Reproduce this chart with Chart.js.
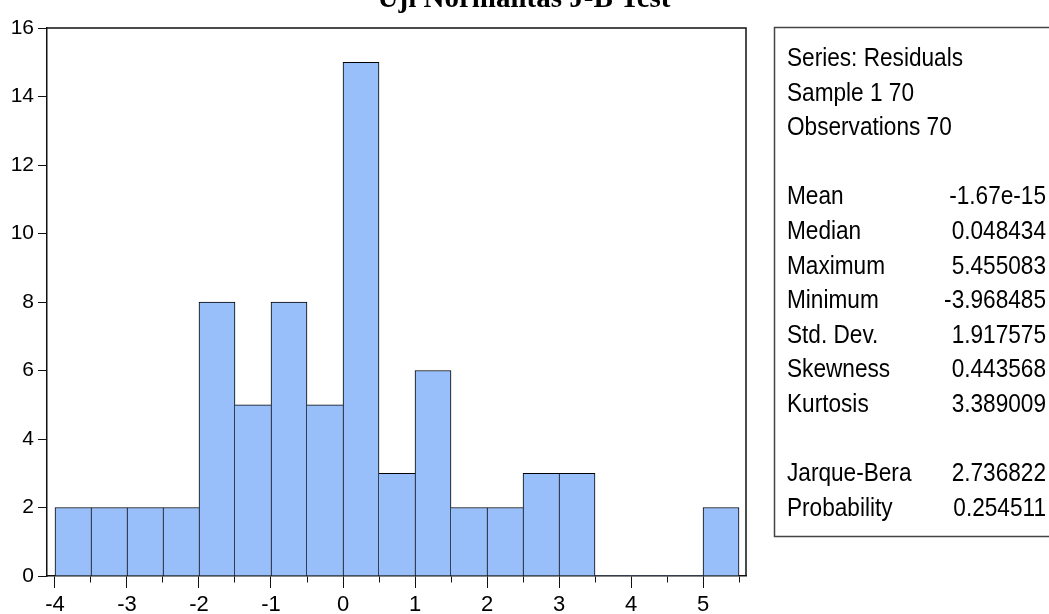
<!DOCTYPE html>
<html>
<head>
<meta charset="utf-8">
<script src="https://cdn.jsdelivr.net/npm/chart.js@4.4.0/dist/chart.umd.min.js"></script>
<style>
  html, body { margin: 0; padding: 0; background: #fff; }
  #wrap { position: relative; width: 1049px; height: 614px; overflow: hidden; }
</style>
</head>
<body>
<div id="wrap"><canvas id="hist"></canvas></div>
<script>
// Histogram of residuals (EViews style) - bins of width 0.5
const binStarts = [-4, -3.5, -3, -2.5, -2, -1.5, -1, -0.5, 0, 0.5, 1, 1.5, 2, 2.5, 3, 3.5, 4, 4.5, 5];
const binWidth = 0.5;
const counts = [2, 2, 2, 2, 8, 5, 8, 5, 15, 3, 6, 2, 2, 3, 3, 0, 0, 0, 2];
const xTickLabels = ['-4', '-3', '-2', '-1', '0', '1', '2', '3', '4', '5'];
const yTickValues = [0, 2, 4, 6, 8, 10, 12, 14, 16];

const titleText = 'Uji Normalitas J-B Test';
const headerLines = ['Series: Residuals', 'Sample 1 70', 'Observations 70'];
const statLabels = ['Mean', 'Median', 'Maximum', 'Minimum', 'Std. Dev.', 'Skewness', 'Kurtosis'];
const statValues = ['-1.67e-15', '0.048434', '5.455083', '-3.968485', '1.917575', '0.443568', '3.389009'];
const testLabels = ['Jarque-Bera', 'Probability'];
const testValues = ['2.736822', '0.254511'];

const SANS = "'Liberation Sans', Arial, sans-serif";
const barFill = '#99BFFB';

// bar borders: avoid doubled lines between neighbouring bins
function barBorder(ctx) {
  const i = ctx.dataIndex;
  if (i === undefined) return 1;
  const v = counts[i];
  if (v === 0) return 0;
  const prev = i > 0 ? counts[i - 1] : -1;
  const next = i < counts.length - 1 ? counts[i + 1] : -1;
  return { top: 1, left: prev <= v ? 1 : 0, right: next < v ? 1 : 0, bottom: 0 };
}

// no narrow font installed, so squeeze the regular one
function narrowText(ctx, text, x, y, align) {
  ctx.save();
  ctx.translate(x, y);
  ctx.scale(0.87, 1);
  ctx.textAlign = align;
  ctx.fillText(text, 0, 0);
  ctx.restore();
}

const frameAndText = {
  id: 'frameAndText',
  afterDatasetsDraw(chart) {
    const { ctx, chartArea } = chart;
    ctx.save();
    ctx.strokeStyle = '#111';
    ctx.lineWidth = 1.5;
    ctx.beginPath();
    ctx.moveTo(chartArea.left, chartArea.top);
    ctx.lineTo(chartArea.right, chartArea.top);
    ctx.lineTo(chartArea.right, chartArea.bottom);
    ctx.stroke();
    ctx.restore();
  },
  afterDraw(chart) {
    const { ctx } = chart;
    ctx.save();
    // title, mostly clipped off the top like the source image
    ctx.fillStyle = '#000';
    ctx.font = "bold 29px 'Liberation Serif', 'Times New Roman', serif";
    ctx.textAlign = 'center';
    ctx.textBaseline = 'alphabetic';
    ctx.fillText(titleText, 524, 7);

    // statistics box
    ctx.strokeStyle = '#444';
    ctx.lineWidth = 1.5;
    ctx.strokeRect(774.5, 27.5, 300, 509);
    ctx.font = '26px ' + SANS;
    const lx = 787, rx = 1046, y0 = 66, lh = 34.6;
    let row = 0;
    headerLines.forEach(t => { narrowText(ctx, t, lx, y0 + row * lh, 'left'); row++; });
    row++;
    statLabels.forEach((t, i) => {
      narrowText(ctx, t, lx, y0 + row * lh, 'left');
      narrowText(ctx, statValues[i], rx, y0 + row * lh, 'right');
      row++;
    });
    row++;
    testLabels.forEach((t, i) => {
      narrowText(ctx, t, lx, y0 + row * lh, 'left');
      narrowText(ctx, testValues[i], rx, y0 + row * lh, 'right');
      row++;
    });
    ctx.restore();
  }
};

const binEdges = binStarts.concat([binStarts[binStarts.length - 1] + binWidth]);

new Chart(document.getElementById('hist'), {
  type: 'bar',
  data: {
    datasets: [{
      data: binStarts.map((s, i) => ({ x: s + binWidth / 2, y: counts[i] })),
      backgroundColor: barFill,
      borderColor: '#000',
      borderWidth: barBorder,
      borderSkipped: false,
      barPercentage: 1,
      categoryPercentage: 1
    }]
  },
  options: {
    responsive: true,
    maintainAspectRatio: false,
    animation: false,
    layout: { padding: { left: 0, top: 28, right: 303, bottom: 0 } },
    plugins: { legend: { display: false }, tooltip: { enabled: false }, title: { display: false } },
    scales: {
      x: {
        type: 'linear',
        offset: false,
        z: 1,
        min: -4.111,
        max: 5.597,
        afterBuildTicks: (scale) => { scale.ticks = binEdges.map(v => ({ value: v })); },
        afterFit: (scale) => { scale.height = 38; },
        border: { display: true, color: '#111', width: 1.5 },
        grid: {
          offset: false,
          drawOnChartArea: false,
          drawTicks: true,
          tickLength: 12,
          tickColor: '#111',
          tickWidth: 1,
          tickBorderDash: (c) => (c.tick && !Number.isInteger(c.tick.value)) ? [6, 40] : []
        },
        ticks: {
          autoSkip: false,
          maxRotation: 0,
          padding: 4,
          color: '#000',
          font: { family: SANS, size: 22 },
          callback: (v) => Number.isInteger(v) ? xTickLabels[v + 4] : ''
        }
      },
      y: {
        min: 0,
        max: 16,
        z: 1,
        afterBuildTicks: (scale) => { scale.ticks = yTickValues.map(v => ({ value: v })); },
        afterFit: (scale) => { scale.width = 47; },
        border: { display: true, color: '#111', width: 1.5 },
        grid: { drawOnChartArea: false, drawTicks: true, tickLength: 9, tickColor: '#111' },
        ticks: {
          padding: 4,
          color: '#000',
          font: { family: SANS, size: 21 }
        }
      }
    }
  },
  plugins: [frameAndText]
});
</script>
</body>
</html>
